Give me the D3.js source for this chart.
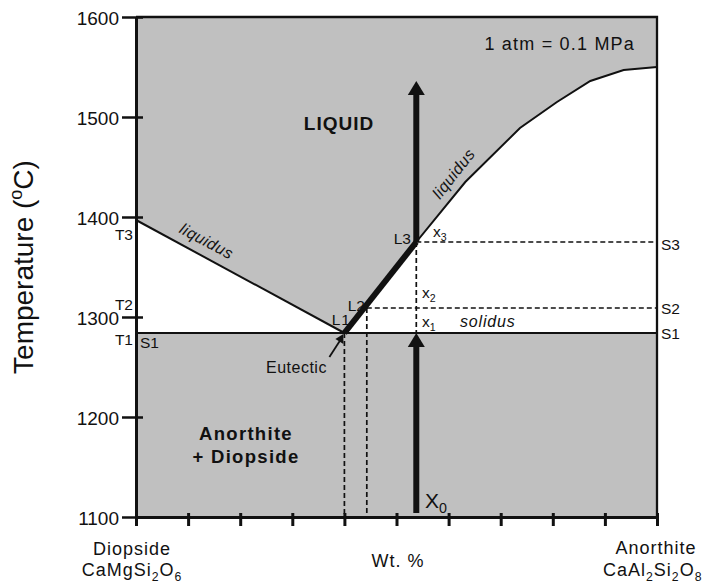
<!DOCTYPE html>
<html>
<head>
<meta charset="utf-8">
<script src="https://cdn.jsdelivr.net/npm/d3@7"></script>
<style>
  body { margin: 0; background: #fff; }
  svg { display: block; font-family: 'Liberation Sans', Arial, sans-serif; }
  text { fill: #111; }
</style>
</head>
<body>
<svg id="chart" width="705" height="583"></svg>
<script>
'use strict';

// temperature in oC, composition in wt.% anorthite
var tempTicks = [1100, 1200, 1300, 1400, 1500, 1600];
var compTicks = [0, 10, 20, 30, 40, 50, 60, 70, 80, 90, 100];
var liquidusDi = [[0, 1397], [40.0, 1284]];
var liquidusAn = [[40.0, 1284], [53.8, 1375], [63.2, 1435], [73.7, 1489],
                  [80.8, 1515], [87.2, 1536], [93.6, 1547], [100, 1550]];
var solidusT = 1284;
var eutectic = [40.0, 1284];
var pointL2 = [44.3, 1309];
var pointL3 = [53.8, 1375];
var bulkX0 = 53.8;
var heatSolid = [1104, 1284];
var heatLiquid = [1375, 1536];

var grey = '#c0c0c0', ink = '#111';

var svg = d3.select('#chart');

var x = d3.scaleLinear().domain([0, 100]).range([136, 657]);
var y = d3.scaleLinear().domain([1100, 1600]).range([517, 17]);

var line = d3.line()
  .x(function(d) { return x(d[0]); })
  .y(function(d) { return y(d[1]); });

// fields
var liquidField = [[0, 1600]].concat(liquidusDi, liquidusAn.slice(1), [[100, 1600]]);
svg.append('path')
  .attr('d', line(liquidField) + 'Z')
  .attr('fill', grey);

svg.append('rect')
  .attr('x', x(0))
  .attr('y', y(solidusT))
  .attr('width', x(100) - x(0))
  .attr('height', y(1100) - y(solidusT))
  .attr('fill', grey);

// dashed construction lines
var dashes = svg.append('g')
  .attr('stroke', ink)
  .attr('stroke-width', 1.7)
  .attr('stroke-dasharray', '5,3')
  .attr('fill', 'none');
dashes.append('path').attr('d', line([eutectic, [eutectic[0], 1100]]));
dashes.append('path').attr('d', line([pointL2, [pointL2[0], 1100]]));
dashes.append('path').attr('d', line([pointL2, [100, pointL2[1]]]));
dashes.append('path').attr('d', line([pointL3, [100, pointL3[1]]]));
dashes.append('path').attr('d', line([pointL3, [bulkX0, solidusT]]));

// liquidus + solidus
var curves = svg.append('g').attr('fill', 'none').attr('stroke', ink);
curves.append('path').attr('d', line(liquidusDi)).attr('stroke-width', 2);
curves.append('path').attr('d', line(liquidusAn)).attr('stroke-width', 2);
curves.append('path').attr('d', line([[0, solidusT], [100, solidusT]])).attr('stroke-width', 2.2);
curves.append('path').attr('d', line([eutectic, pointL3])).attr('stroke-width', 6);

// heating arrows
function arrowUp(xv, t0, t1) {
  var px = x(xv), y0 = y(t0), y1 = y(t1), hw = 8.5, hh = 14;
  svg.append('rect')
    .attr('x', px - 3).attr('y', y1 + hh - 1)
    .attr('width', 6).attr('height', y0 - y1 - hh + 1)
    .attr('fill', ink);
  svg.append('path')
    .attr('d', 'M' + px + ',' + y1 + 'L' + (px + hw) + ',' + (y1 + hh) + 'L' + (px - hw) + ',' + (y1 + hh) + 'Z')
    .attr('fill', ink);
}
arrowUp(bulkX0, heatSolid[0], heatSolid[1]);
arrowUp(bulkX0, heatLiquid[0], heatLiquid[1]);

// eutectic pointer
var ex = x(eutectic[0]), ey = y(eutectic[1]);
svg.append('line')
  .attr('x1', ex - 15).attr('y1', ey + 24)
  .attr('x2', ex - 4).attr('y2', ey + 7)
  .attr('stroke', ink).attr('stroke-width', 1.8);
svg.append('path')
  .attr('d', 'M' + (ex - 1) + ',' + (ey + 1) + 'L' + (ex - 1) + ',' + (ey + 11) + 'L' + (ex - 9) + ',' + (ey + 6) + 'Z')
  .attr('fill', ink);

// frame top/right
svg.append('path')
  .attr('d', 'M' + x(0) + ',' + y(1600) + 'H' + x(100) + 'V' + y(1100))
  .attr('fill', 'none').attr('stroke', ink).attr('stroke-width', 2.3);

// axes
var yAxis = svg.append('g')
  .attr('transform', 'translate(' + x(0) + ',0)')
  .call(d3.axisLeft(y).tickValues(tempTicks).tickFormat(d3.format('d'))
    .tickSize(14).tickSizeOuter(0).tickPadding(3));
yAxis.attr('font-family', null).attr('font-size', null);
yAxis.selectAll('.tick line').attr('x2', -14).attr('x1', 7).attr('stroke-width', 2.5).attr('stroke', ink);
yAxis.selectAll('.tick text').attr('font-size', 19).attr('dy', '0.4em').attr('fill', ink);
yAxis.select('.domain').attr('stroke-width', 3).attr('stroke', ink);

var xAxis = svg.append('g')
  .attr('transform', 'translate(0,' + y(1100) + ')')
  .call(d3.axisBottom(x).tickValues(compTicks).tickSize(9).tickSizeOuter(0).tickFormat(''));
xAxis.selectAll('.tick line').attr('y1', -4).attr('y2', 9).attr('stroke-width', 3).attr('stroke', ink);
xAxis.select('.domain').attr('stroke-width', 3).attr('stroke', ink);

// text helpers
function label(txt, px, py, opts) {
  opts = opts || {};
  var t = svg.append('text')
    .attr('x', px).attr('y', py)
    .attr('font-size', opts.size || 15.5)
    .attr('text-anchor', opts.anchor || 'start')
    .attr('font-weight', opts.bold ? 'bold' : null)
    .attr('font-style', opts.italic ? 'italic' : null)
    .attr('letter-spacing', opts.spacing || null)
    .attr('transform', opts.rotate ? 'rotate(' + opts.rotate + ',' + px + ',' + py + ')' : null);
  if (opts.sub) {
    // digits rendered as subscripts
    var down = false, sz = opts.size || 15.5, shift = Math.round(sz * 0.25);
    txt.split(/(\d)/).forEach(function(p) {
      if (!p) return;
      var isSub = /\d/.test(p);
      var dy = isSub && !down ? shift : (!isSub && down ? -shift : 0);
      down = isSub;
      t.append('tspan')
        .attr('dy', dy || null)
        .attr('font-size', isSub ? sz * 0.68 : null)
        .text(p);
    });
  } else {
    t.text(txt);
  }
  return t;
}

// y title
var yt = svg.append('text')
  .attr('transform', 'translate(33,267) rotate(-90)')
  .attr('text-anchor', 'middle')
  .attr('font-size', 28);
yt.append('tspan').text('Temperature (');
yt.append('tspan').attr('font-size', 18).attr('dy', -11).text('o');
yt.append('tspan').attr('dy', 11).text('C)');

// x axis captions
label('Diopside', 132, 555, {size: 18, anchor: 'middle', spacing: 1});
label('CaMgSi2O6', 132, 576, {size: 18, anchor: 'middle', spacing: 1, sub: true});
label('Wt. %', 398, 567, {size: 18, anchor: 'middle', spacing: 1});
label('Anorthite', 656, 554, {size: 18, anchor: 'middle', spacing: 1});
label('CaAl2Si2O8', 603, 576, {size: 18, spacing: 1, sub: true});

// field labels
label('1 atm = 0.1 MPa', 635, 50, {size: 18, anchor: 'end', spacing: 1.2});
label('LIQUID', 339, 130, {size: 19, anchor: 'middle', bold: true, spacing: 1});
label('Anorthite', 246, 440, {size: 18.5, anchor: 'middle', bold: true, spacing: 1.3});
label('+ Diopside', 246, 463, {size: 18.5, anchor: 'middle', bold: true, spacing: 1.3});

// curve names
label('liquidus', 204, 246, {size: 16, anchor: 'middle', italic: true, rotate: 28, spacing: 0.5});
label('liquidus', 458, 177, {size: 16, anchor: 'middle', italic: true, rotate: -52, spacing: 0.5});
label('solidus', x(62.2), y(solidusT) - 6, {size: 16, italic: true, spacing: 0.8});
label('Eutectic', 266, 373, {size: 16, spacing: 0.5});

// temperatures and points
label('T3', 133, y(liquidusDi[0][1]) + 20, {anchor: 'end'});
label('T2', 133, y(pointL2[1]) + 2, {anchor: 'end'});
label('T1', 133, y(solidusT) + 12, {anchor: 'end'});
label('S1', 140, y(solidusT) + 15);
label('S3', 661, y(pointL3[1]) + 8);
label('S2', 661, y(pointL2[1]) + 6);
label('S1', 661, y(solidusT) + 6);
label('L1', 351, y(eutectic[1]) - 8, {anchor: 'end', spacing: 1});
label('L2', 365, y(pointL2[1]) + 3, {anchor: 'end'});
label('L3', 411, y(pointL3[1]) + 2, {anchor: 'end'});
label('x3', 433, y(pointL3[1]) - 5, {sub: true});
label('x2', 422, y(pointL2[1]) - 10, {sub: true});
label('x1', 422, y(solidusT) - 6, {sub: true});
label('X0', 425, 508, {size: 21, sub: true});
</script>
</body>
</html>
